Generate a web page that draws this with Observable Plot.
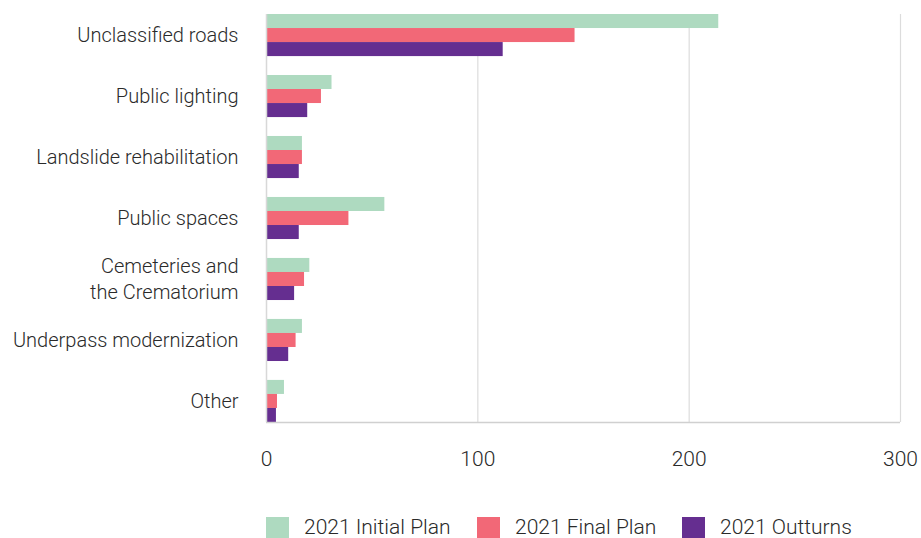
<!DOCTYPE html>
<html>
<head>
<meta charset="utf-8">
<script src="https://cdn.jsdelivr.net/npm/d3@7"></script>
<script src="https://cdn.jsdelivr.net/npm/@observablehq/plot@0.6"></script>
<style>
  html, body { margin: 0; padding: 0; background: #fff; }
  body { width: 921px; height: 538px; position: relative; overflow: hidden; font-family: Roboto, "Noto Sans", sans-serif; }
  #chart { position: absolute; left: 0; top: 0; }
  .legend { position: absolute; top: 516px; left: 0; width: 921px; height: 22px; }
  .item { position: absolute; top: 0; display: flex; align-items: center; height: 22px; font-size: 21px; font-weight: 300; color: #2a2a2a; white-space: nowrap; }
  .sw { width: 23px; height: 21px; margin-right: 15px; display: inline-block; }
</style>
</head>
<body>
<div id="chart"></div>
<div class="legend" id="legend"></div>
<script>
const categories = [
  "Unclassified roads",
  "Public lighting",
  "Landslide rehabilitation",
  "Public spaces",
  "Cemeteries and\nthe Crematorium",
  "Underpass modernization",
  "Other"
];
const seriesNames = ["2021 Initial Plan", "2021 Final Plan", "2021 Outturns"];
const initialPlan = [214, 31, 17, 56, 20.5, 17, 8.5];
const finalPlan   = [146, 26, 17, 39, 18, 14, 5.2];
const outturns    = [112, 19.5, 15.5, 15.5, 13.3, 10.5, 4.7];
const xTicks = [0, 100, 200, 300];
const colors = ["#aedac0", "#f26877", "#652e90"];

const data = categories.map((c, i) => ({
  category: c, initial: initialPlan[i], final: finalPlan[i], outturn: outturns[i]
}));

const W = 921, H = 490, mTop = 14, mBottom = 68, mLeft = 266, mRight = 21;
const padInner = 0.31;
const step = (H - mTop - mBottom) / (categories.length - padInner);
const band = step * (1 - padInner);
const third = band / 3;

const keys = ["initial", "final", "outturn"];
const barMarks = keys.map((k, j) => Plot.barX(data, {
  x: k, y: "category", fill: colors[j],
  insetTop: third * j, insetBottom: third * (2 - j)
}));

const chart = Plot.plot({
  width: W, height: H,
  marginTop: mTop, marginBottom: mBottom, marginLeft: mLeft, marginRight: mRight,
  style: { fontFamily: "Roboto, 'Noto Sans', sans-serif", background: "#fff" },
  x: { domain: [0, 300], axis: null },
  y: { domain: categories, paddingInner: padInner, paddingOuter: 0, round: false, axis: null },
  marks: [
    Plot.ruleX(xTicks.slice(1), { stroke: "#dcdcdc", strokeWidth: 1.2 }),
    ...barMarks,
    Plot.ruleX([0], { stroke: "#d8d8d8", strokeWidth: 1.5 }),
    Plot.axisX({ ticks: xTicks, tickSize: 0, tickPadding: 29, fontSize: 21, fontWeight: 300, fill: "#2a2a2a", tickFormat: d => String(d), label: null }),
    Plot.axisY({ tickSize: 0, tickPadding: 28, fontSize: 20, fontWeight: 300, fill: "#2a2a2a", lineHeight: 1.3, dy: -2, label: null })
  ]
});
const svg = d3.select(chart);
svg.append("line")
  .attr("x1", mLeft).attr("x2", W - mRight)
  .attr("y1", H - mBottom + 0.5).attr("y2", H - mBottom + 0.5)
  .attr("stroke", "#d0d0d0").attr("stroke-width", 1.5);
document.getElementById("chart").appendChild(chart);

const legendLefts = [266, 477, 682];
const legend = document.getElementById("legend");
seriesNames.forEach((s, i) => {
  const it = document.createElement("div");
  it.className = "item";
  it.style.left = legendLefts[i] + "px";
  it.innerHTML = `<span class="sw" style="background:${colors[i]}"></span>${s}`;
  legend.appendChild(it);
});
</script>
</body>
</html>
